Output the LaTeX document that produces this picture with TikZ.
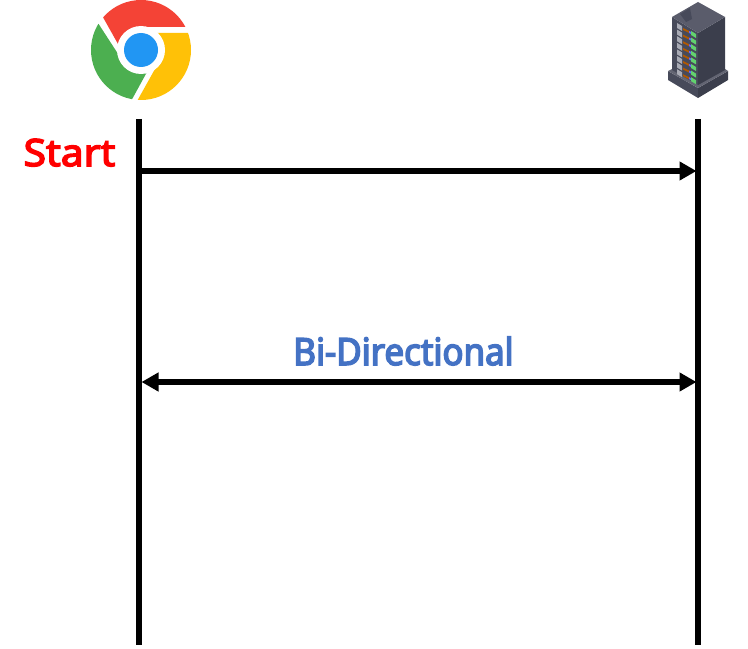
\documentclass[tikz,border=0pt]{standalone}
\usepackage{xcolor}
\usepackage{fontspec}
\newfontfamily\startfont[FakeBold=4,FakeStretch=1.09]{Noto Sans}
\newfontfamily\bifont[FakeBold=4,FakeStretch=0.93]{Noto Sans}
\usepackage{tikz}
\usetikzlibrary{arrows.meta, positioning}

\definecolor{chromeRed}{HTML}{F44336}
\definecolor{chromeGreen}{HTML}{4CAF50}
\definecolor{chromeYellow}{HTML}{FFC107}
\definecolor{chromeBlue}{HTML}{2196F3}
\definecolor{labelBlue}{HTML}{4472C4}
\definecolor{rackTop}{HTML}{5A5C6B}
\definecolor{rackLeft}{HTML}{474A5A}
\definecolor{rackRight}{HTML}{3B3E4C}
\definecolor{rackGreen}{HTML}{62D26F}
\definecolor{rackGray}{HTML}{A9ABB5}

\tikzset{
  lifeline/.style={line width=6bp},
  message/.style={line width=6bp, {Triangle[length=17bp,width=18bp]}-{Triangle[length=17bp,width=18bp]}},
  oneway/.style={line width=6bp, -{Triangle[length=17bp,width=18bp]}},
  bigLabel/.style={anchor=base},
}

\begin{document}
\begin{tikzpicture}[x=1bp, y=-1bp]
  \useasboundingbox (0,0) rectangle (748,649);

  % ---- Browser icon ----
  \begin{scope}
    \clip (141,50) circle (50);
    \fill[chromeRed] (200,27) -- (141,27) -- (118,44) -- (95,3) -- (95,-5) -- (200,-5) -- cycle;
    \fill[chromeGreen] (91.5,13) -- (122,60) -- (147,72) -- (130,103) -- (85,103) -- (85,13) -- cycle;
    \fill[chromeYellow] (197,33) -- (155,33) -- (160,60) -- (136,103) -- (197,103) -- cycle;
  \end{scope}
  \fill[white] (141,50) circle (24);
  \fill[chromeBlue] (141,50) circle (17);

  % ---- Server icon ----
  \fill[rackLeft] (668,71) -- (698,88) -- (698,98) -- (668,80) -- cycle;
  \fill[rackRight] (728,71) -- (698,88) -- (698,98) -- (728,80) -- cycle;
  \fill[rackLeft!85!white] (668,71) -- (672,69) -- (698,84) -- (725,69) -- (728,71) -- (698,88) -- cycle;
  \fill[rackLeft] (672,17) -- (698,33) -- (698,85) -- (672,70) -- cycle;
  \fill[rackRight] (725,17) -- (698,33) -- (698,85) -- (725,70) -- cycle;
  \fill[rackTop] (698,2) -- (725,17) -- (698,33) -- (672,17) -- cycle;
  \fill[rackLeft] (680,14) -- (690,8) -- (692,19) -- (686,22) -- cycle;
  \foreach \row in {0,...,7} {
    \fill[rackGray] (677,{23+\row*6.6}) -- (682,{26+\row*6.6}) -- (682,{31+\row*6.6}) -- (677,{28+\row*6.6}) -- cycle;
    \fill[orange!70!black] (683,{28+\row*6.6}) -- (689,{31+\row*6.6}) -- (689,{33+\row*6.6}) -- (683,{30+\row*6.6}) -- cycle;
    \fill[blue!60] (689,{31+\row*6.6}) -- (691,{32+\row*6.6}) -- (691,{34+\row*6.6}) -- (689,{33+\row*6.6}) -- cycle;
    \fill[rackGreen] (691,{31+\row*6.6}) -- (696,{34+\row*6.6}) -- (696,{38+\row*6.6}) -- (691,{35+\row*6.6}) -- cycle;
  }

  % ---- Lifelines ----
  \coordinate (browserTop) at (139,119);
  \coordinate (browserEnd) at (139,645);
  \coordinate (serverTop) at (698,119);
  \coordinate (serverEnd) at (698,645);
  \draw[lifeline] (browserTop) -- (browserEnd);
  \draw[lifeline] (serverTop) -- (serverEnd);

  % ---- Messages ----
  \coordinate (startFrom) at (139,171);
  \coordinate (startTo) at (696.5,171);
  \coordinate (biFrom) at (141.5,382);
  \coordinate (biTo) at (696.5,382);
  \draw[oneway] (startFrom) -- (startTo);
  \draw[message] (biFrom) -- (biTo);

  % ---- Labels ----
  \node[bigLabel, text=red, font=\fontsize{37.5bp}{37.5bp}\startfont] (startLabel) at (69.5,166) {Start};
  \node[bigLabel, text=labelBlue, font=\fontsize{37.5bp}{37.5bp}\bifont] (biLabel) at (403.5,365) {Bi-Directional};
\end{tikzpicture}
\end{document}
